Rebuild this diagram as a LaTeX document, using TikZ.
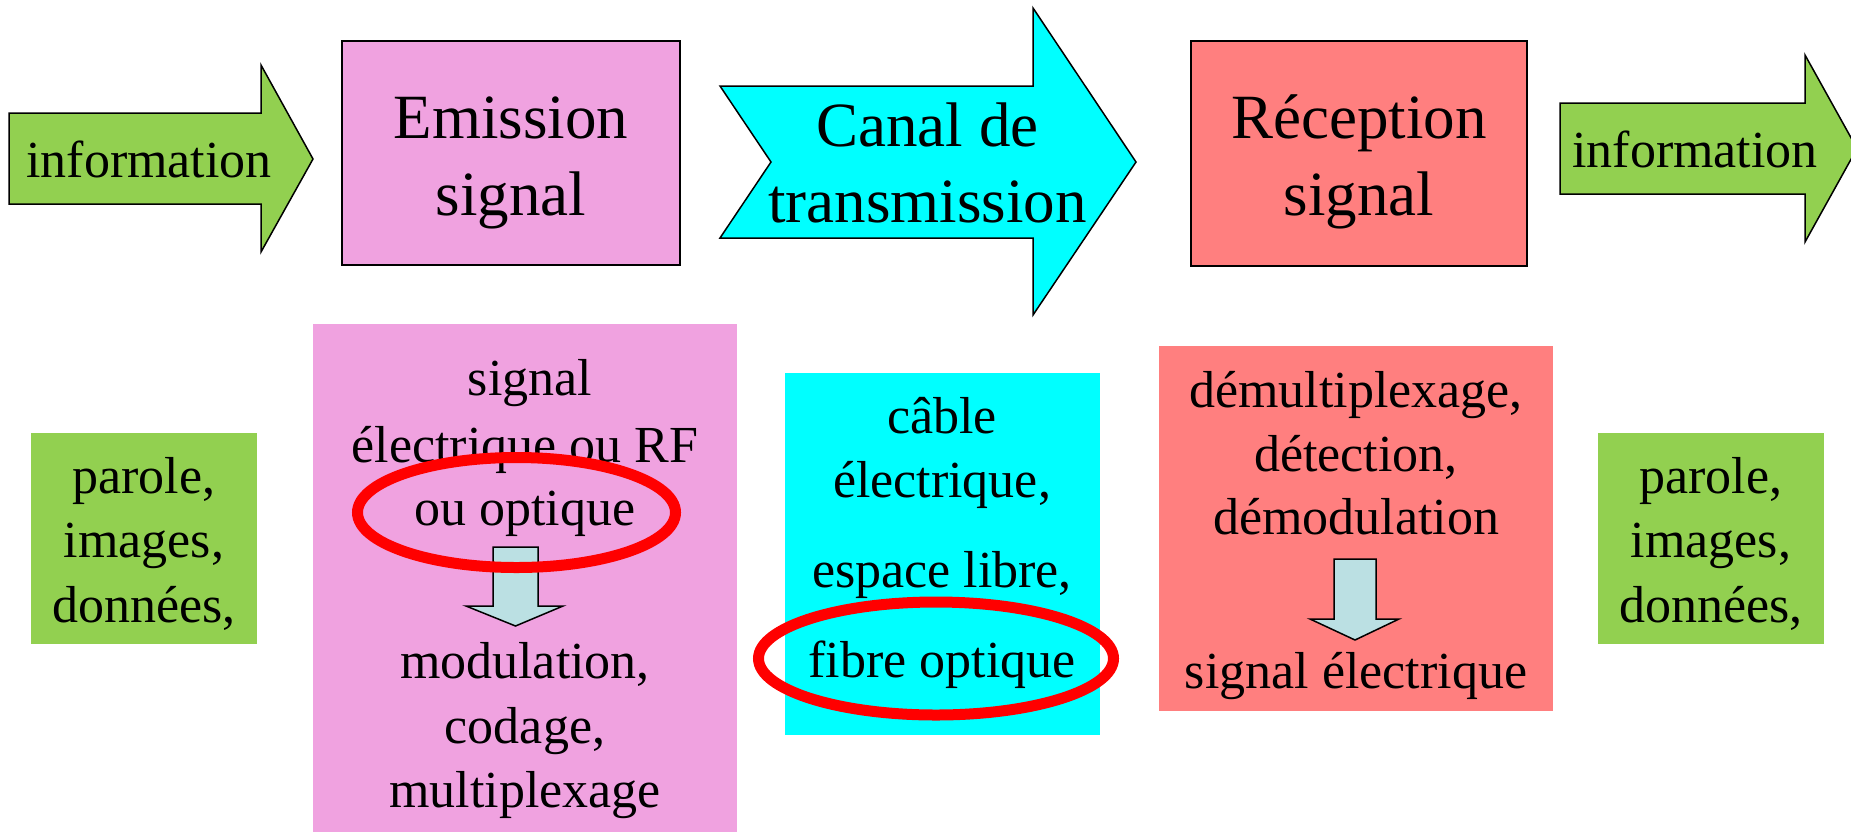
\documentclass[tikz,border=0pt]{standalone}
\usepackage{fontspec}
\setmainfont{Liberation Serif}
\definecolor{infogreen}{RGB}{146,208,80}
\definecolor{empink}{RGB}{240,162,224}
\definecolor{chcyan}{RGB}{0,255,255}
\definecolor{recred}{RGB}{255,127,127}
\definecolor{arrblue}{RGB}{187,224,227}
\begin{document}
\begin{tikzpicture}[x=0.5pt,y=-0.5pt,
  outl/.style={draw=black,line width=0.75pt},
  big/.style={font=\fontsize{31.5}{38}\selectfont,anchor=base,inner sep=0pt},
  txt/.style={font=\fontsize{26}{32}\selectfont,anchor=base,inner sep=0pt},
  ring/.style={draw=red,line width=5.5pt},
  downarr/.style={outl,fill=arrblue},
]
\clip (0,0) rectangle (1851,831);
\fill[white] (0,0) rectangle (1851,831);

% ---------- top row ----------
\path[outl,fill=infogreen] (9,113) -- (261,113) -- (261,65) -- (313,159) -- (261,252) -- (261,204) -- (9,204) -- cycle;
\node[txt] (info1) at (149,177) {information};

\path[outl,fill=empink] (342,41) rectangle (680,265);
\node[big] (em1) at (511,138) {Emission};
\node[big] (em2) at (511,215) {signal};

\path[outl,fill=chcyan] (720,86) -- (1033,86) -- (1033,8) -- (1136,162) -- (1033,315) -- (1033,238) -- (720,238) -- (771,162) -- cycle;
\node[big] (ca1) at (927.5,146) {Canal de};
\node[big] (ca2) at (927.5,222) {transmission};

\path[outl,fill=recred] (1191,41) rectangle (1527,266);
\node[big] (re1) at (1359,138) {Réception};
\node[big] (re2) at (1359,215) {signal};

\path[outl,fill=infogreen] (1560,103) -- (1805,103) -- (1805,55) -- (1857,148.5) -- (1805,242) -- (1805,194) -- (1560,194) -- cycle;
\node[txt] (info2) at (1695,167) {information};

% ---------- bottom row ----------
\fill[infogreen] (31,433) rectangle (257,644);
\node[txt] (g1) at (144,493) {parole,};
\node[txt] (g2) at (144,557) {images,};
\node[txt] (g3) at (144,622) {données,};

\fill[empink] (313,324) rectangle (737,840);
\node[txt] (p1) at (530,395) {signal};
\node[txt] (p2) at (525,462) {électrique ou RF};
\node[txt] (p3) at (525,525) {ou optique};
\path[downarr] (493,547) -- (538,547) -- (538,606) -- (563,606) -- (515.5,626) -- (466,606) -- (493,606) -- cycle;
\node[txt] (p4) at (525,678) {modulation,};
\node[txt] (p5) at (525,743) {codage,};
\node[txt] (p6) at (525,807) {multiplexage};

\fill[chcyan] (785,373) rectangle (1100,735);
\node[txt] (c1) at (942,433) {câble};
\node[txt] (c2) at (942,497) {électrique,};
\node[txt] (c3) at (942,587) {espace libre,};
\node[txt] (c4) at (942,677) {fibre optique};

\fill[recred] (1159,346) rectangle (1553,711);
\node[txt] (r1) at (1356,407) {démultiplexage,};
\node[txt] (r2) at (1356,471) {détection,};
\node[txt] (r3) at (1356,534) {démodulation};
\path[downarr] (1334,559) -- (1376,559) -- (1376,619) -- (1399,619) -- (1355,640) -- (1310,619) -- (1334,619) -- cycle;
\node[txt] (r4) at (1356,688) {signal électrique};

\fill[infogreen] (1598,433) rectangle (1824,644);
\node[txt] (h1) at (1711,493) {parole,};
\node[txt] (h2) at (1711,557) {images,};
\node[txt] (h3) at (1711,622) {données,};

% ---------- highlight rings ----------
\draw[ring] (516.5,512.5) ellipse [x radius=159, y radius=55];
\draw[ring] (936,658.5) ellipse [x radius=177.5, y radius=56.5];
\end{tikzpicture}
\end{document}
